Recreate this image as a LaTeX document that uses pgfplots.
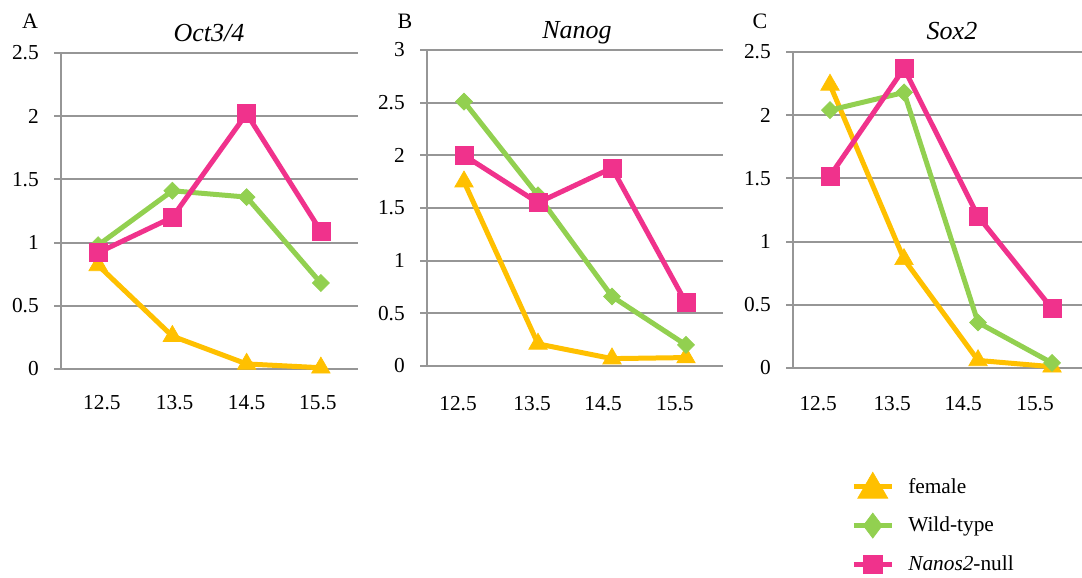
\documentclass[border=0pt]{standalone}
\usepackage{pgfplots}
\pgfplotsset{compat=1.18}
\usepackage{fontspec}
\setmainfont{Liberation Serif}
\definecolor{cfem}{RGB}{255,192,0}
\definecolor{cwt}{RGB}{146,208,80}
\definecolor{cnan}{RGB}{240,50,140}
\definecolor{cgrid}{RGB}{150,150,150}
\pgfplotsset{
  panel/.style={
    scale only axis, height=237pt, clip=false,
    axis lines*=left,
    axis line style={cgrid, line width=1.5pt},
    ymajorgrids, major grid style={cgrid, line width=1.5pt},
    xmin=-0.5, ymin=0,
    tick align=outside, major tick length=5pt,
    xtick style={draw=none},
    ytick style={cgrid, line width=1.5pt},
    ticklabel style={font=\fontsize{16}{19}\selectfont},
    /pgf/number format/assume math mode=true,
    yticklabel style={inner sep=0pt, anchor=east, xshift=-11.5pt},
    xticklabel style={inner sep=0pt, anchor=center, yshift=-20.5pt},
    xticklabels={12.5,13.5,14.5,15.5},
    legend image code/.code={\draw[##1, mark repeat=2, mark phase=2] plot coordinates {(0pt,0pt) (14.25pt,0pt) (28.5pt,0pt)};},
  },
  fem/.style={cfem, line width=3.75pt, mark=triangle*, mark size=8pt, mark options={solid, fill=cfem, line width=0.5pt}},
  wt/.style={cwt, line width=3.75pt, mark=square*, mark size=4.5pt, mark options={solid, fill=cwt, rotate=45, line width=0.5pt}},
  nan/.style={cnan, line width=3.75pt, mark=square*, mark size=6.75pt, mark options={solid, fill=cnan, line width=0.5pt}},
  legfem/.style={cfem, line width=3.75pt, mark=triangle*, mark size=13pt, mark options={solid, fill=cfem, line width=0.5pt, yshift=-2.25pt}},
  legwt/.style={cwt, line width=3.75pt, mark=diamond*, mark size=9.4pt, mark options={solid, fill=cwt, line width=0.5pt}},
  legnan/.style={cnan, line width=3.75pt, mark=square*, mark size=6.9pt, mark options={solid, fill=cnan, line width=0.5pt}},
}
\begin{document}
\begin{tikzpicture}
\useasboundingbox (0,0) rectangle (811.5pt,433.5pt);
% Panel A
\begin{axis}[panel, at={(45.75pt,156.75pt)}, anchor=south west, width=222.75pt,
  xmax=3.5, ymax=2.5, ytick={0,0.5,1,1.5,2,2.5}, xtick={0.05,1.03,2.0,2.96}]
\addplot[fem] coordinates {(0,0.82) (1,0.26) (2,0.04) (3,0.01)};
\addplot[wt] coordinates {(0,0.98) (1,1.41) (2,1.36) (3,0.68)};
\addplot[nan] coordinates {(0,0.92) (1,1.20) (2,2.02) (3,1.09)};
\end{axis}
% Panel B
\begin{axis}[panel, at={(320.25pt,159pt)}, anchor=south west, width=222pt,
  xmax=3.5, ymax=3, ytick={0,0.5,1,1.5,2,2.5,3}, xtick={-0.08,0.92,1.88,2.85},
  xticklabel style={yshift=-2.5pt}]
\addplot[fem] coordinates {(0,1.75) (1,0.21) (2,0.07) (3,0.08)};
\addplot[wt] coordinates {(0,2.51) (1,1.62) (2,0.66) (3,0.20)};
\addplot[nan] coordinates {(0,2.00) (1,1.55) (2,1.88) (3,0.60)};
\end{axis}
% Panel C
\begin{axis}[panel, at={(594.75pt,157.5pt)}, anchor=south west, width=216.75pt,
  xmax=3.405, ymax=2.5, ytick={0,0.5,1,1.5,2,2.5}, xtick={-0.16,0.84,1.80,2.77},
  xticklabel style={yshift=-1.2pt},
  legend style={at={(0.2007,-0.329)}, anchor=north west, draw=none, fill=none,
    inner sep=0pt, row sep={29.25pt,between origins}, column sep=10.5pt,
    font=\fontsize{16}{19}\selectfont, nodes={inner sep=0pt}},
  legend cell align=left]
\addplot[fem, forget plot] coordinates {(0,2.24) (1,0.86) (2,0.06) (3,0.01)};
\addplot[wt, forget plot] coordinates {(0,2.04) (1,2.18) (2,0.36) (3,0.04)};
\addplot[nan, forget plot] coordinates {(0,1.52) (1,2.37) (2,1.20) (3,0.47)};
\addlegendimage{legfem}
\addlegendentry{female}
\addlegendimage{legwt}
\addlegendentry{Wild-type}
\addlegendimage{legnan}
\addlegendentry{\textit{Nanos2}-null}
\end{axis}
\begin{scope}[every node/.style={inner sep=0pt, anchor=base}]
\node[font=\fontsize{16.5}{19}\selectfont] at (22.5pt,411.75pt) {A};
\node[font=\fontsize{16.5}{19}\selectfont] at (303.75pt,411.75pt) {B};
\node[font=\fontsize{16.5}{19}\selectfont] at (570pt,411.75pt) {C};
\node[font=\fontsize{19.5}{23}\selectfont\itshape] at (156.75pt,402.2pt) {Oct3/4};
\node[font=\fontsize{19.5}{23}\selectfont\itshape] at (432.75pt,404.75pt) {Nanog};
\node[font=\fontsize{19.5}{23}\selectfont\itshape] at (714pt,403.5pt) {Sox2};
\end{scope}
\end{tikzpicture}
\end{document}
